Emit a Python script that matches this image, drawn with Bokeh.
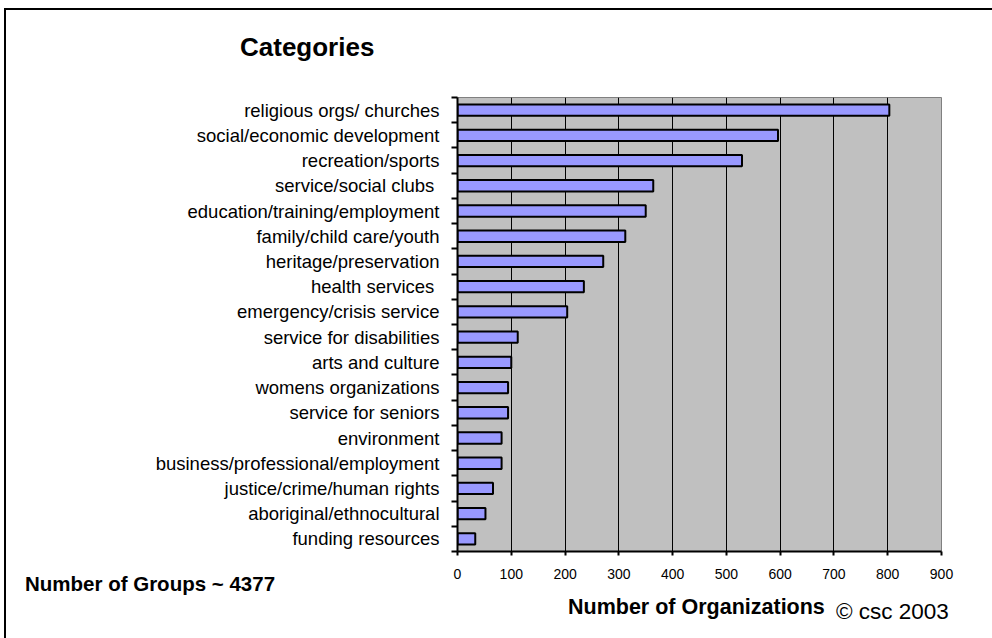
from bokeh.plotting import figure
from bokeh.models import Range1d, FixedTicker, Div
from bokeh.layouts import column
from bokeh.embed import file_html
from bokeh.resources import INLINE

categories = [
    "religious orgs/ churches",
    "social/economic development",
    "recreation/sports",
    "service/social clubs ",
    "education/training/employment",
    "family/child care/youth",
    "heritage/preservation",
    "health services ",
    "emergency/crisis service",
    "service for disabilities",
    "arts and culture",
    "womens organizations",
    "service for seniors",
    "environment",
    "business/professional/employment",
    "justice/crime/human rights",
    "aboriginal/ethnocultural",
    "funding resources",
]
counts = [803, 596, 529, 364, 350, 312, 271, 235, 204, 112, 100, 94, 94, 82, 82, 66, 52, 33]
x_ticks = [0, 100, 200, 300, 400, 500, 600, 700, 800, 900]

title_text = "Categories"
groups_text = "Number of Groups ~ 4377"
x_title = "Number of Organizations"
credit_text = "\u00a9 csc 2003"

# page geometry
OX, OY = 6, 10            # content origin inside the outer frame lines
DIV_PAD = 5               # inner offset of the Div's content
W, H = 992 - OX, 638 - OY
FL, FR, FT, FB = 457, 941, 97, 551
XMAX = 900
N = len(categories)
FONT = "Liberation Sans"

p = figure(width=W, height=H, output_backend="svg", toolbar_location=None,
           x_range=Range1d(0, XMAX), y_range=Range1d(0, N),
           min_border_left=FL - OX, min_border_right=992 - FR,
           min_border_top=FT - OY, min_border_bottom=638 - FB,
           background_fill_color="#C0C0C0", border_fill_color="white")

ycent = [N - i - 0.5 for i in range(N)]
p.hbar(y=ycent, right=counts, left=0, height=0.45,
       fill_color="#9999FF", line_color="black", line_width=2)

p.outline_line_color = "#808080"
p.outline_line_width = 1

xa = p.xaxis[0]
xa.ticker = FixedTicker(ticks=x_ticks, minor_ticks=[])
xa.axis_line_color = "black"
xa.axis_line_width = 2
xa.major_tick_line_width = 2
xa.major_tick_out = 4
xa.major_tick_in = 0
xa.minor_tick_out = 0
xa.major_label_standoff = 13
xa.major_label_text_font = FONT
xa.major_label_text_font_size = "14px"
xa.major_label_text_color = "black"

ya = p.yaxis[0]
ya.ticker = FixedTicker(ticks=ycent, minor_ticks=list(range(N + 1)))
ya.major_label_overrides = {y: c for y, c in zip(ycent, categories)}
ya.axis_line_color = "black"
ya.axis_line_width = 2
ya.major_tick_out = 0
ya.major_tick_in = 0
ya.minor_tick_out = 6
ya.minor_tick_in = 0
ya.minor_tick_line_width = 2
ya.minor_tick_line_color = "black"
ya.major_label_standoff = 12
ya.major_label_text_font = FONT
ya.major_label_text_font_size = "18.5px"
ya.major_label_text_color = "black"

p.xgrid.grid_line_color = "black"
p.xgrid.grid_line_width = 1
p.ygrid.grid_line_color = None


def span(text, left, cy, size, bold):
    top = cy - 0.49 * size - OY - DIV_PAD
    weight = "bold" if bold else "normal"
    return (f'<span style="position:absolute;left:{left - OX - DIV_PAD}px;top:{top:.1f}px;'
            f"font-family:'{FONT}';font-size:{size}px;font-weight:{weight};"
            f'line-height:1;white-space:nowrap;color:black;">{text}</span>')


html = "".join([
    span(title_text, 240, 47, 26, True),
    span(groups_text, 25, 584, 20.5, True),
    span(x_title, 568, 607, 21.5, True),
    span(credit_text, 836, 612, 22.5, False),
])
overlay = Div(text=html, width=W, height=H,
              styles={"position": "absolute", "left": "0px", "top": "0px",
                      "overflow": "visible", "pointer-events": "none", "z-index": "5"})

layout = column(p, overlay, spacing=0, margin=(OY - 2, 0, 0, OX - 2),
                styles={"border-left": "2px solid black", "border-top": "2px solid black",
                        "position": "relative"})

open("out.html", "w").write(file_html(layout, INLINE))
